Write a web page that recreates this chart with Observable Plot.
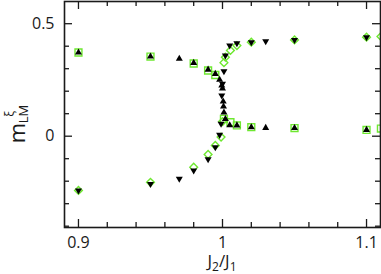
<!DOCTYPE html>
<html><head><meta charset="utf-8">
<script src="https://cdn.jsdelivr.net/npm/d3@7"></script>
<script src="https://cdn.jsdelivr.net/npm/@observablehq/plot@0.6"></script>
<style>body{margin:0;background:#fff} svg{display:block}</style>
</head><body><div id="chart"></div>
<script>
// Black up triangles
const upX = [0.9,0.95,0.97,0.98,0.99,0.995,0.998,0.9995,1.0,1.0005,1.0007,1.001,1.002,1.005,1.01,1.02,1.03,1.05,1.1];
const upY = [0.372,0.354,0.344,0.326,0.296,0.277,0.251,0.225,0.212,0.154,0.132,0.105,0.076,0.049,0.048,0.040,0.037,0.036,0.028];
// Black down triangles
const downX = [0.9,0.95,0.97,0.98,0.99,0.995,0.998,0.999,0.9995,1.0,1.001,1.002,1.005,1.01,1.02,1.03,1.05,1.1];
const downY = [-0.241,-0.212,-0.189,-0.152,-0.102,-0.049,0.006,0.055,0.181,0.233,0.289,0.359,0.403,0.413,0.418,0.422,0.428,0.440];
// Green open diamonds
const diaX = [0.9,0.95,0.98,0.99,0.995,0.999,1.0,1.001,1.002,1.0055,1.01,1.02,1.05,1.1,1.11];
const diaY = [-0.241,-0.205,-0.138,-0.081,-0.041,-0.004,0.065,0.327,0.351,0.381,0.403,0.418,0.428,0.440,0.443];
// Green open squares
const sqX = [0.9,0.95,0.98,0.99,0.995,1.001,1.0055,1.01,1.02,1.05,1.1,1.11];
const sqY = [0.372,0.354,0.323,0.292,0.272,0.077,0.062,0.048,0.040,0.036,0.028,0.034];

const xMajor = [0.9, 1.0, 1.1];
const xMinor = [0.92,0.94,0.96,0.98,1.02,1.04,1.06,1.08];
const yMajor = [0, 0.5];
const yMinor = [-0.4,-0.3,-0.2,-0.1,0.1,0.2,0.3,0.4];

const pts = (xs, ys) => xs.map((x, i) => ({x, y: ys[i]}));
const W = 381, H = 274, mT = 1, mB = 47, mL = 64, mR = 1;
const inner = H - mT - mB;
const innerW = W - mL - mR;
const green = "#6ee830";
const ink = "#1a1a1a";

const chart = Plot.plot({
  width: W, height: H,
  marginTop: mT, marginBottom: mB, marginLeft: mL, marginRight: mR,
  style: {fontFamily: "'Open Sans', sans-serif", fontSize: "16px", color: ink, background: "white"},
  x: {domain: [0.8903, 1.1097]},
  y: {domain: [-0.4058, 0.5987]},
  marks: [
    Plot.dot(pts(sqX, sqY), {x: "x", y: "y", symbol: "square", r: 3.9, stroke: green, strokeWidth: 1.4, fill: "none", clip: true}),
    Plot.dot(pts(diaX, diaY), {x: "x", y: "y", symbol: "diamond2", r: 3.5, stroke: green, strokeWidth: 1.4, fill: "none", clip: true}),
    Plot.dot(pts(upX, upY), {x: "x", y: "y", symbol: "triangle", r: 2.6, fill: "black", stroke: "none", clip: true}),
    Plot.dot(pts(downX, downY), {x: "x", y: "y", symbol: "triangle", rotate: 180, r: 2.6, fill: "black", stroke: "none", clip: true}),
    // inward ticks
    Plot.tickX(xMajor, {x: d => d, insetTop: inner - 8, stroke: ink, strokeWidth: 1.3}),
    Plot.tickX(xMinor, {x: d => d, insetTop: inner - 5, stroke: ink, strokeWidth: 1.3}),
    Plot.tickX(xMajor, {x: d => d, insetBottom: inner - 8, stroke: ink, strokeWidth: 1.3}),
    Plot.tickX(xMinor, {x: d => d, insetBottom: inner - 5, stroke: ink, strokeWidth: 1.3}),
    Plot.tickY(yMajor, {y: d => d, insetRight: innerW - 8, stroke: ink, strokeWidth: 1.3}),
    Plot.tickY(yMinor, {y: d => d, insetRight: innerW - 5, stroke: ink, strokeWidth: 1.3}),
    Plot.tickY(yMajor, {y: d => d, insetLeft: innerW - 8, stroke: ink, strokeWidth: 1.3}),
    Plot.tickY(yMinor, {y: d => d, insetLeft: innerW - 5, stroke: ink, strokeWidth: 1.3}),
    Plot.axisX({ticks: xMajor, tickSize: 0, tickPadding: 9, tickFormat: d => String(+d.toFixed(1)), label: null}),
    Plot.axisY({ticks: yMajor, tickSize: 0, tickPadding: 10, tickFormat: d => String(d), label: null}),
    Plot.frame({stroke: ink, strokeWidth: 1.6})
  ]
});
document.getElementById("chart").append(chart);

const svg = d3.select(chart);
// x label J2/J1
const xl = svg.append("text").attr("x", 222).attr("y", 267).attr("text-anchor", "middle")
  .attr("fill", ink).style("font-family", "'Open Sans', sans-serif").style("font-size", "17px");
xl.append("tspan").text("J");
xl.append("tspan").attr("dy", 4).style("font-size", "12px").text("2");
xl.append("tspan").attr("dy", -4).text("/J");
xl.append("tspan").attr("dy", 4).style("font-size", "12px").text("1");

// y label m^xi_LM
const yl = svg.append("g").attr("transform", "translate(25,133) rotate(-90)")
  .attr("fill", ink).style("font-family", "'Open Sans', sans-serif");
yl.append("text").attr("x", 0).attr("y", 0).style("font-size", "22px").text("m");
yl.append("text").attr("x", 19).attr("y", -11).style("font-size", "12px").text("ξ");
yl.append("text").attr("x", 19).attr("y", 3).style("font-size", "13px").text("LM");
</script>
</body></html>
